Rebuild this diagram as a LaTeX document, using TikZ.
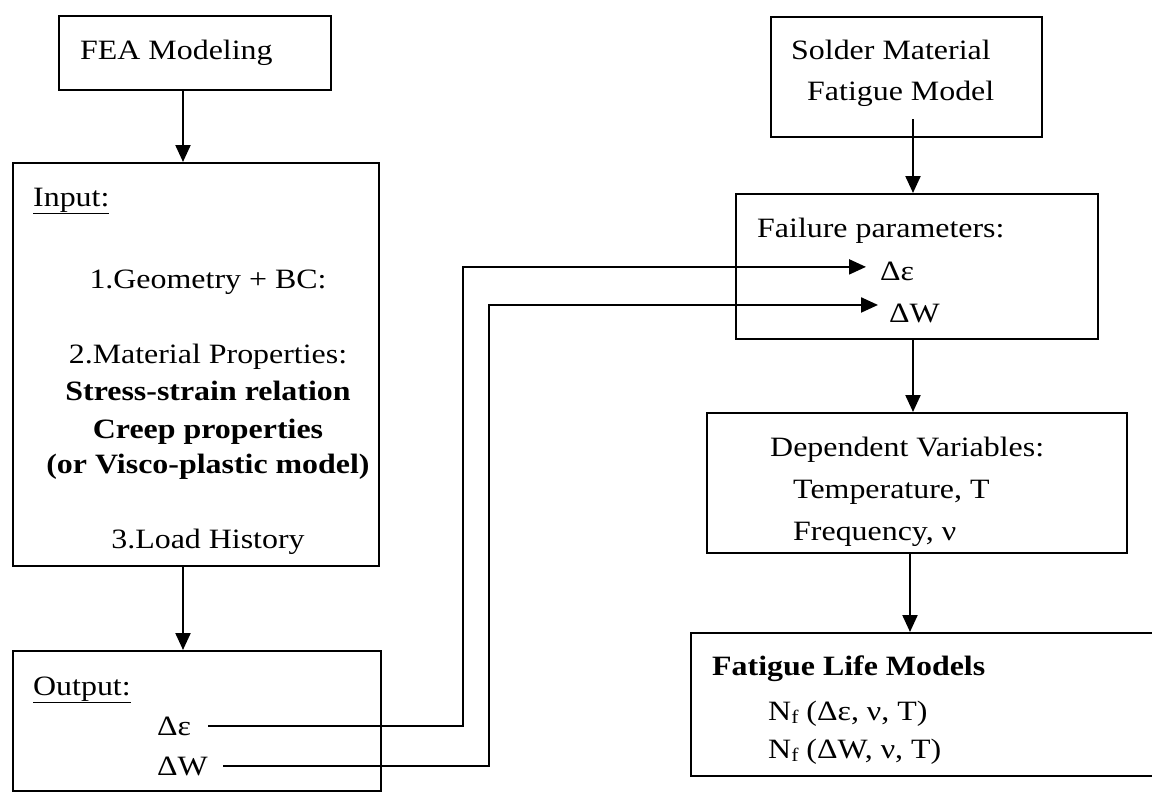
\documentclass[tikz,border=0pt]{standalone}
\usepackage{fontspec}
\setmainfont[FakeStretch=1.14]{Liberation Serif}
\usetikzlibrary{arrows.meta}
\begin{document}
\begin{tikzpicture}[x=1pt,y=-1pt,
  box/.style={draw, line width=2.4pt, inner sep=0pt, anchor=north west},
  txt/.style={inner sep=0pt, font=\fontsize{28}{34}\selectfont},
  btxt/.style={inner sep=0pt, font=\fontsize{28}{34}\selectfont\bfseries},
  arr/.style={line width=2.2pt, -{Triangle[length=17pt,width=15pt]}}]
\useasboundingbox (0,0) rectangle (1152,792);
% boxes
\node[box, minimum width=272pt, minimum height=74pt] (fea) at (58,15) {};
\node[box, minimum width=366pt, minimum height=403pt] (input) at (12,162) {};
\node[box, minimum width=368pt, minimum height=140pt] (output) at (12,650) {};
\node[box, minimum width=271pt, minimum height=120pt] (solder) at (770,16) {};
\node[box, minimum width=362pt, minimum height=145pt] (failure) at (735,193) {};
\node[box, minimum width=420pt, minimum height=140pt] (dep) at (706,412) {};
\node[box, minimum width=480pt, minimum height=143pt] (fat) at (690,632) {};
% texts
\node[txt, anchor=base west] (feat) at (80,60) {FEA Modeling};
\node[txt, anchor=base west] (inh) at (33,206) {\underline{Input:}};
\node[txt, anchor=base] (in1) at (208,288) {1.Geometry + BC:};
\node[txt, anchor=base] (in2) at (208,363) {2.Material Properties:};
\node[btxt, anchor=base] (in3) at (208,400) {Stress-strain relation};
\node[btxt, anchor=base] (in4) at (208,438) {Creep properties};
\node[btxt, anchor=base] (in5) at (208,473) {(or Visco-plastic model)};
\node[txt, anchor=base] (in6) at (208,548) {3.Load History};
\node[txt, anchor=base west] (outh) at (33,695) {\underline{Output:}};
\node[txt, anchor=base west] (deo) at (157,735) {Δε};
\node[txt, anchor=base west] (dwo) at (157,775) {ΔW};
\node[txt, anchor=base west] (sol1) at (791,60) {Solder Material};
\node[txt, anchor=base west] (sol2) at (807,100) {Fatigue Model};
\node[txt, anchor=base west] (fp) at (757,237) {Failure parameters:};
\node[txt, anchor=base west] (dei) at (880,280) {Δε};
\node[txt, anchor=base west] (dwi) at (889,322) {ΔW};
\node[txt, anchor=base west] (dv1) at (770,456) {Dependent Variables:};
\node[txt, anchor=base west] (dv2) at (793,498) {Temperature, T};
\node[txt, anchor=base west] (dv3) at (793,540) {Frequency, ν};
\node[btxt, anchor=base west] (fl1) at (712,675) {Fatigue Life Models};
\node[txt, anchor=base west] (fl2) at (768,720) {N{\fontsize{19}{19}\selectfont\raisebox{-3pt}{f}} (Δε, ν, T)};
\node[txt, anchor=base west] (fl3) at (768,758) {N{\fontsize{19}{19}\selectfont\raisebox{-3pt}{f}} (ΔW, ν, T)};
% guide coordinates
\coordinate (v0) at (183,0);
\coordinate (v1) at (463,0);
\coordinate (v2) at (489,0);
\coordinate (v3) at (913,0);
\coordinate (v4) at (910,0);
% connectors
\draw[arr] (fea.south -| v0) -- (input.north -| v0);
\draw[arr] (input.south -| v0) -- (output.north -| v0);
\draw[arr] ([yshift=19pt]solder.south -| v3) -- (failure.north -| v3);
\draw[arr] (failure.south -| v3) -- (dep.north -| v3);
\draw[arr] (dep.south -| v4) -- (fat.north -| v4);
\draw[arr] ([xshift=17pt]deo.east) -| ([yshift=4pt]v1 |- dei.west) -- ([xshift=-14pt,yshift=4pt]dei.west);
\draw[arr] ([xshift=15pt]dwo.east) -| ([yshift=8pt]v2 |- dwi.west) -- ([xshift=-11pt,yshift=8pt]dwi.west);
\end{tikzpicture}
\end{document}
